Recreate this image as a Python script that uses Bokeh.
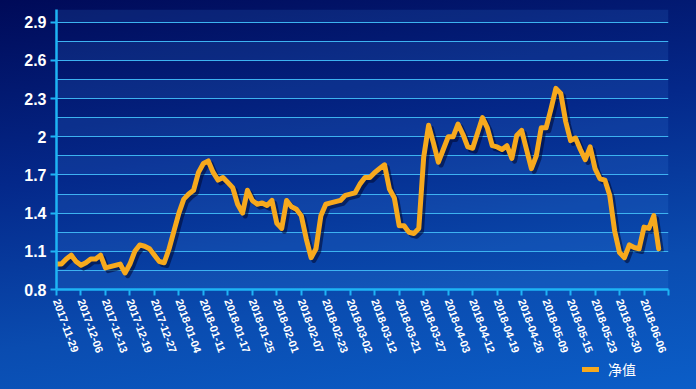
from bokeh.plotting import figure
from bokeh.layouts import column
from bokeh.models import (ColumnDataSource, FixedTicker, Range1d, BoxAnnotation,
                          Legend, LegendItem)
from bokeh.transform import dodge
from bokeh.embed import file_html
from bokeh.resources import INLINE
import math

# ---- data -------------------------------------------------------------
x_labels = ["2017-11-29", "2017-12-06", "2017-12-13", "2017-12-19", "2017-12-27",
            "2018-01-04", "2018-01-11", "2018-01-17", "2018-01-25", "2018-02-01",
            "2018-02-07", "2018-02-23", "2018-03-02", "2018-03-12", "2018-03-21",
            "2018-03-27", "2018-04-03", "2018-04-12", "2018-04-19", "2018-04-26",
            "2018-05-09", "2018-05-15", "2018-05-23", "2018-05-30", "2018-06-06"]

nav = [1.00, 1.00, 1.04, 1.07, 1.02, 0.99, 1.01, 1.04, 1.04, 1.07,
       0.97, 0.98, 0.99, 1.00, 0.93, 1.00, 1.10, 1.15, 1.14, 1.12,
       1.07, 1.02, 1.01, 1.12, 1.26, 1.40, 1.51, 1.55, 1.58, 1.72,
       1.79, 1.81, 1.72, 1.66, 1.68, 1.64, 1.60, 1.47, 1.40, 1.58,
       1.50, 1.47, 1.48, 1.46, 1.50, 1.32, 1.28, 1.50, 1.45, 1.43,
       1.38, 1.20, 1.05, 1.12, 1.38, 1.47, 1.48, 1.49, 1.50, 1.54,
       1.55, 1.56, 1.63, 1.68, 1.68, 1.72, 1.75, 1.78, 1.59, 1.52,
       1.30, 1.30, 1.25, 1.24, 1.28, 1.84, 2.09, 1.95, 1.80, 1.90,
       2.00, 2.00, 2.10, 2.02, 1.92, 1.91, 2.03, 2.15, 2.07, 1.93,
       1.92, 1.90, 1.93, 1.83, 2.01, 2.05, 1.90, 1.75, 1.85, 2.07,
       2.07, 2.22, 2.38, 2.34, 2.12, 1.97, 1.99, 1.90, 1.82, 1.92,
       1.75, 1.67, 1.66, 1.54, 1.26, 1.09, 1.05, 1.15, 1.13, 1.12,
       1.29, 1.28, 1.38, 1.12]

y_ticks = [0.8, 1.1, 1.4, 1.7, 2.0, 2.3, 2.6, 2.9]
y_tick_labels = ["0.8", "1.1", "1.4", "1.7", "2", "2.3", "2.6", "2.9"]
series_name = "净值"

LINE_COLOR = "#f7a91d"

# ---- main figure ------------------------------------------------------
step = 5
x_end = len(x_labels) * step
p = figure(width=696, height=360, output_backend="svg", toolbar_location=None,
           x_range=Range1d(0, x_end), y_range=Range1d(0.8, 3.0))
p.min_border_left = 56
p.min_border_right = 28
p.min_border_top = 9
p.min_border_bottom = 71
p.background_fill_alpha = 0
p.border_fill_alpha = 0
p.outline_line_color = None

# alternating bands (every 0.15)
grid_ticks = [0.8 + 0.15 * k for k in range(15)]
for lo in grid_ticks[0::2]:
    p.add_layout(BoxAnnotation(bottom=lo, top=min(lo + 0.15, 3.0),
                               fill_color="#4aa0ff", fill_alpha=0.13,
                               line_color=None, level="underlay"))

p.xgrid.visible = False
p.ygrid.ticker = FixedTicker(ticks=grid_ticks[1:])
p.ygrid.grid_line_color = "#3cb4f0"
p.ygrid.grid_line_width = 1.2

# axes
p.yaxis.ticker = FixedTicker(ticks=y_ticks)
p.yaxis.major_label_overrides = dict(zip(y_ticks, y_tick_labels))
p.xaxis.ticker = FixedTicker(ticks=list(range(0, x_end + 1, step)))
p.xaxis.major_label_overrides = {i * step: lab for i, lab in enumerate(x_labels)} | {x_end: ""}
for ax in (p.xaxis, p.yaxis):
    ax.axis_line_color = "#1eb4f5"
    ax.axis_line_width = 2.5
    ax.major_tick_line_color = "#1eb4f5"
    ax.major_tick_line_width = 2
    ax.major_tick_in = 0
    ax.major_tick_out = 6
    ax.minor_tick_line_color = None
    ax.major_label_text_color = "white"
    ax.major_label_text_font = "Liberation Sans"
    ax.major_label_text_font_style = "bold"
p.yaxis.major_label_text_font_size = "16px"
p.yaxis.major_label_standoff = 4
p.xaxis.major_label_text_font_size = "11px"
p.xaxis.major_label_orientation = -math.radians(70)
p.xaxis.major_label_standoff = 4

# line + shadow
src = ColumnDataSource(dict(x=list(range(len(nav))), y=nav))
p.line(x=dodge("x", 0.55), y=dodge("y", -0.022), source=src,
       line_color="#00082e", line_alpha=0.55, line_width=5, line_join="round")
p.line(x="x", y="y", source=src, line_color=LINE_COLOR, line_width=5,
       line_join="round", line_cap="round")

# ---- legend strip (its frame is aligned with the main frame by the column) --
lg = figure(width=696, height=29, output_backend="svg", toolbar_location=None,
            x_axis_type=None, y_axis_type=None,
            x_range=Range1d(-3, -2), y_range=Range1d(0, 1))
lg.min_border_left = 0
lg.min_border_right = 0
lg.min_border_top = 0
lg.min_border_bottom = 0
lg.background_fill_alpha = 0
lg.border_fill_alpha = 0
lg.outline_line_color = None
lg.xgrid.visible = False
lg.ygrid.visible = False
leg_r = lg.line(x="x", y="y", source=src, line_color=LINE_COLOR,
                line_width=5, line_cap="round")

legend = Legend(items=[LegendItem(label=series_name, renderers=[leg_r])],
                location=(526, 10), padding=0, margin=0, spacing=0,
                glyph_width=17, glyph_height=16, label_height=16,
                label_standoff=9, background_fill_alpha=0, border_line_color=None,
                label_text_color="white", label_text_font_size="14px",
                label_text_font="Noto Sans CJK SC")
lg.add_layout(legend, "center")

layout = column(p, lg, spacing=0)

template = """{% block postamble %}
<style>
html { min-height: 100%; background: linear-gradient(172deg, #000a58 0%, #04288a 38%, #0a4cb0 72%, #0b5ec8 100%); }
body { background: transparent; }
</style>
{% endblock %}"""

open("out.html", "w").write(file_html(layout, INLINE, template=template))
